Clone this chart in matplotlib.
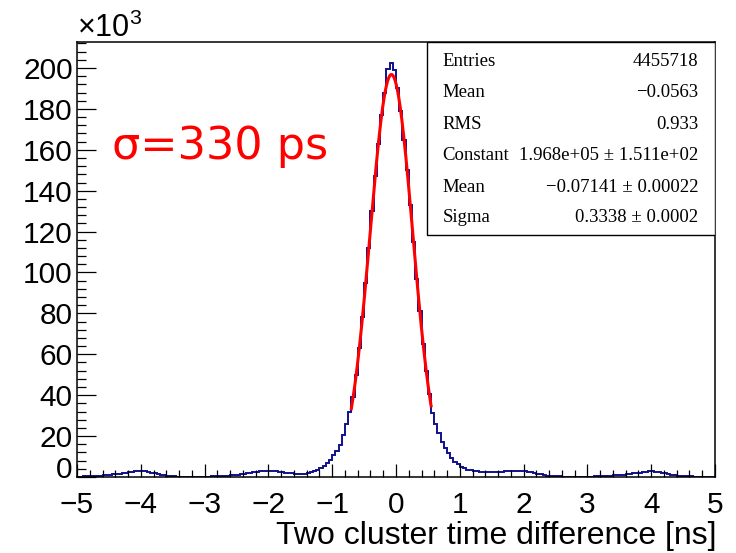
import numpy as np
import matplotlib
matplotlib.use('Agg')
import matplotlib.pyplot as plt
import matplotlib.transforms as mtransforms
from matplotlib.ticker import MultipleLocator, FuncFormatter
from matplotlib.patches import Rectangle

plt.rcParams['font.family'] = ['Liberation Sans', 'DejaVu Sans']
plt.rcParams['mathtext.fontset'] = 'custom'
plt.rcParams['mathtext.rm'] = 'Liberation Sans'

# histogram: 200 bins from -5 to 5 ns, counts in units of 10^3
x_lo, x_hi, n_bins = -5.0, 5.0, 200
counts = [
    0.2, 0.2, 0.3, 0.3, 0.4, 0.5, 0.6, 0.7, 0.8, 0.9,
    1.1, 1.3, 1.5, 1.7, 1.9, 2.1, 2.3, 2.5, 2.7, 2.8,
    2.8, 2.7, 2.5, 2.2, 1.9, 1.5, 1.2, 0.9, 0.6, 0.4,
    0.3, 0.2, 0.2, 0.2, 0.2, 0.2, 0.2, 0.2, 0.2, 0.2,
    0.2, 0.2, 0.3, 0.3, 0.4, 0.5, 0.6, 0.7, 0.8, 0.9,
    1.1, 1.3, 1.6, 1.8, 2.1, 2.3, 2.6, 2.8, 3.0, 3.1,
    3.1, 3.0, 2.8, 2.6, 2.4, 2.2, 2.0, 1.8, 1.7, 1.6,
    1.6, 1.7, 2.0, 2.3, 2.8, 3.4, 4.3, 5.5, 6.9, 8.3,
    10.8, 12.9, 15.6, 20.5, 26.0, 32.0, 39.0, 50.0, 63.0, 78.0,
    95.0, 112.0, 130.0, 147.0, 163.0, 177.0, 188.0, 199.5, 202.5, 199.0,
    190.0, 179.0, 165.0, 150.0, 133.0, 115.0, 97.0, 81.0, 65.0, 52.0,
    40.5, 31.3, 26.0, 21.3, 17.3, 14.0, 11.6, 9.1, 7.5, 6.2,
    5.0, 4.2, 3.6, 3.2, 2.9, 2.7, 2.6, 2.5, 2.5, 2.4,
    2.4, 2.4, 2.5, 2.6, 2.7, 2.8, 2.9, 2.9, 3.0, 2.9,
    2.8, 2.6, 2.3, 2.0, 1.6, 1.3, 1.0, 0.7, 0.5, 0.4,
    0.3, 0.3, 0.2, 0.2, 0.2, 0.2, 0.2, 0.2, 0.2, 0.2,
    0.2, 0.2, 0.3, 0.3, 0.4, 0.5, 0.6, 0.7, 0.8, 0.9,
    1.0, 1.2, 1.4, 1.6, 1.8, 2.0, 2.2, 2.4, 2.6, 2.7,
    2.7, 2.5, 2.3, 2.0, 1.8, 1.5, 1.2, 0.9, 0.7, 0.5,
    0.4, 0.3, 0.3, 0.2, 0.2, 0.2, 0.2, 0.2, 0.2, 0.2,
]

# gaussian fit result (from the stats box) and fit range
fit_const = 1.968e+05
fit_mean = -0.07141
fit_sigma = 0.3338
fit_range = (-0.70, 0.55)

stat_labels = ['Entries', 'Mean', 'RMS', 'Constant', 'Mean', 'Sigma']
stat_values = ['4455718', '\u22120.0563', '0.933', '1.968e+05 \u00b1 1.511e+02',
               '\u22120.07141 \u00b1 0.00022', '0.3338 \u00b1 0.0002']

W, H = 736, 553
fig = plt.figure(figsize=(W / 100, H / 100), dpi=100)
ax = fig.add_axes([77 / W, 1 - 477 / H, 638 / W, 435 / H])

edges = np.linspace(x_lo, x_hi, n_bins + 1)
ax.stairs(counts, edges, color='#101090', linewidth=1.4, baseline=0)

xf = np.linspace(fit_range[0], fit_range[1], 300)
yf = fit_const * np.exp(-0.5 * ((xf - fit_mean) / fit_sigma) ** 2) / 1e3
ax.plot(xf, yf, color='#ff0000', linewidth=2.2)

ax.set_xlim(x_lo, x_hi)
ax.set_ylim(0, 212.7)
ax.xaxis.set_major_locator(MultipleLocator(1))
ax.xaxis.set_minor_locator(MultipleLocator(0.2))
ax.yaxis.set_major_locator(MultipleLocator(20))
ax.yaxis.set_minor_locator(MultipleLocator(4))
# the "0" on y is drawn by hand below, lifted a little off the x labels
ax.yaxis.set_major_formatter(FuncFormatter(lambda v, p: '' if abs(v) < 1e-9 else f'{v:g}'))
ax.tick_params(axis='both', which='both', direction='in', width=0.9,
               top=False, right=False, labelsize=21.5)
ax.tick_params(axis='y', which='major', length=13.7, pad=3)
ax.tick_params(axis='y', which='minor', length=6.8)
ax.tick_params(axis='x', which='major', length=9.4, pad=10)
ax.tick_params(axis='x', which='minor', length=4.7)
for sp in ax.spines.values():
    sp.set_linewidth(1.1)

zero_tr = ax.get_yaxis_transform() + mtransforms.ScaledTranslation(-3 / 72, 5 / 72, fig.dpi_scale_trans)
ax.text(0, 0, '0', transform=zero_tr, fontsize=21.5, ha='right', va='center')

# x10^3 multiplier
fig.text(77 / W, 1 - 28 / H, r'$\times10^{3}$', fontsize=22, ha='left', va='center')

# axis title, right aligned like ROOT
fig.text(716 / W, 1 - 536 / H, 'Two cluster time difference [ns]',
         fontsize=23, ha='right', va='center')

# sigma annotation
fig.text(112 / W, 1 - 147 / H, '\u03c3=330 ps', color='#ff0000', fontsize=32,
         ha='left', va='center', family='DejaVu Sans')

# stats box
bx0, by0 = (427.3 - 77) / 638, (477 - 235) / 435
ax.add_patch(Rectangle((bx0, by0), 1 - bx0, 1 - by0, transform=ax.transAxes,
                       facecolor='white', edgecolor='black', linewidth=1.0, zorder=5))
row_y = [61, 92.5, 124.5, 156, 188, 218]
for lab, val, ry in zip(stat_labels, stat_values, row_y):
    fig.text(442.7 / W, 1 - ry / H, lab, fontsize=13.5, family='Liberation Serif',
             ha='left', va='center', zorder=6)
    fig.text(698.3 / W, 1 - ry / H, val, fontsize=13.5, family='Liberation Serif',
             ha='right', va='center', zorder=6)

fig.savefig('out.png', dpi=100)
